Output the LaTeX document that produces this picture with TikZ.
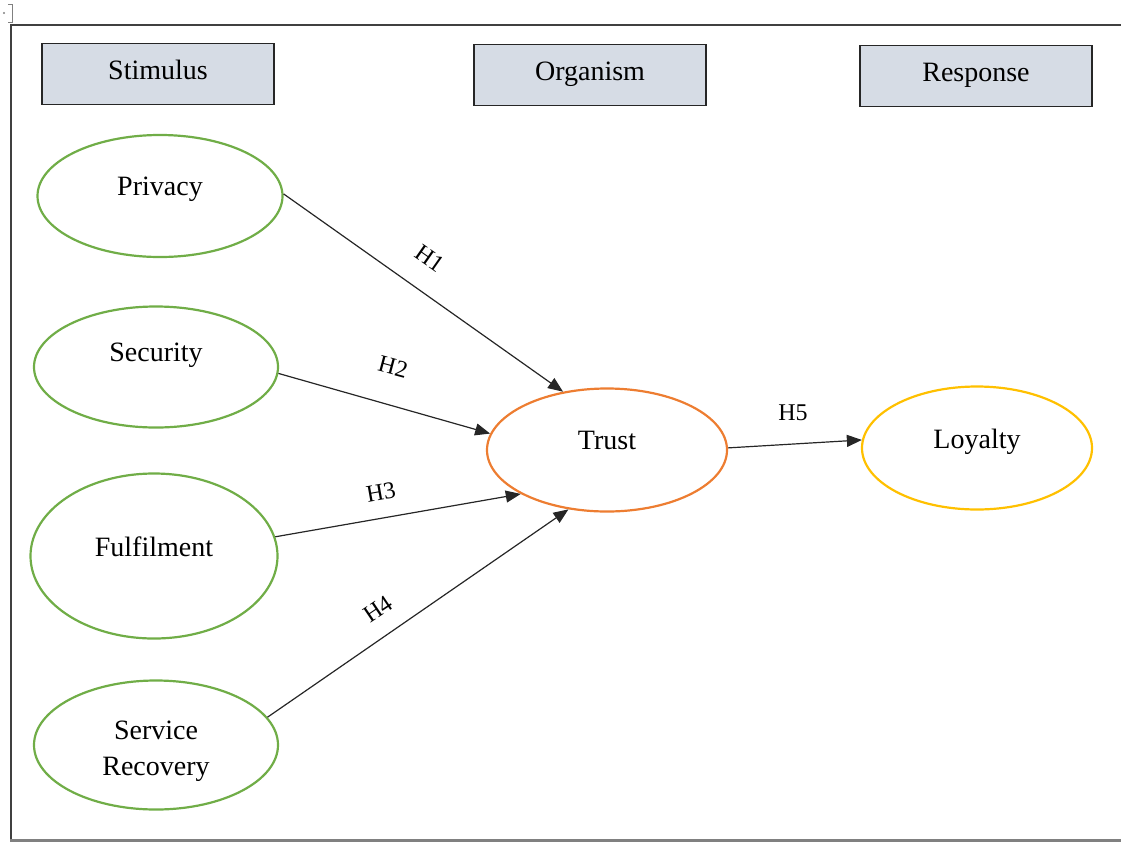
\documentclass[tikz,border=0pt]{standalone}
\usepackage{fontspec}
\setmainfont{Liberation Serif}
\usetikzlibrary{arrows.meta,shapes.geometric}
\definecolor{boxfill}{HTML}{D6DCE5}
\definecolor{stimgreen}{HTML}{70AD47}
\definecolor{trustorange}{HTML}{ED7D31}
\definecolor{loyalgold}{HTML}{FFC000}
\definecolor{framegray}{HTML}{404040}
\tikzset{
  headbox/.style={draw=black!85, line width=1.3pt, fill=boxfill, minimum width=232pt, minimum height=61pt, inner sep=0pt},
  construct/.style={ellipse, draw, line width=2.2pt, inner sep=0pt},
  lbl/.style={font=\fontsize{28}{36}\selectfont, align=center, inner sep=0pt, text height=19pt, text depth=0pt},
  hyp/.style={font=\fontsize{24}{28}\selectfont, inner sep=0pt},
  link/.style={line width=1.2pt, draw=black!85, -{Triangle[length=15pt,width=12pt]}}
}
\begin{document}
\begin{tikzpicture}[x=1pt,y=-1pt]
\useasboundingbox (0,0) rectangle (1121,863);
% frame
\draw[framegray, line width=1.5pt] (1121,25) -- (11,25) -- (11,840);
\draw[gray, line width=2.5pt] (10,840.5) -- (1121,840.5);
% word anchor mark
\draw[gray, line width=0.8pt] (8,4) -- (12,4) -- (12,22) -- (8,22);
\fill[gray] (4,13) circle (1.2pt);
% header boxes
\node[headbox] (stim) at (158,74) {};
\node[lbl] (stimT) at (158,70) {Stimulus};
\node[headbox] (org) at (590,75) {};
\node[lbl] (orgT) at (590,71) {Organism};
\node[headbox] (resp) at (976,76) {};
\node[lbl] (respT) at (976,72) {Response};
% constructs
\node[construct, draw=stimgreen, minimum width=245pt, minimum height=122pt] (privacy) at (160,196) {};
\node[lbl] (privacyT) at (160,186) {Privacy};
\node[construct, draw=stimgreen, minimum width=244pt, minimum height=121pt] (security) at (156,367) {};
\node[lbl] (securityT) at (156,352) {Security};
\node[construct, draw=stimgreen, minimum width=247pt, minimum height=165pt] (fulfil) at (154,556) {};
\node[lbl] (fulfilT) at (154,547) {Fulfilment};
\node[construct, draw=stimgreen, minimum width=244pt, minimum height=129pt] (service) at (156,745) {};
\node[lbl] (serviceT) at (156,766) {Service\\Recovery};
\node[construct, draw=trustorange, minimum width=240pt, minimum height=123pt] (trust) at (607,450) {};
\node[lbl] (trustT) at (607,440) {Trust};
\node[construct, draw=loyalgold, minimum width=230pt, minimum height=123pt] (loyalty) at (977,448) {};
\node[lbl] (loyaltyT) at (977,439) {Loyalty};
% connectors
\draw[link] (privacy.1) -- (trust.127);
\draw[link] (security.-3) -- (trust.172);
\draw[link] (fulfil.9) -- (trust.207);
\draw[link] (service.14) -- (trust.237);
\draw[link] (trust.1) -- (loyalty.176);
% hypothesis labels
\node[hyp, rotate=-35] (h1) at (430,258) {H1};
\node[hyp, rotate=-15] (h2) at (393,367) {H2};
\node[hyp, rotate=10] (h3) at (381,492) {H3};
\node[hyp, rotate=34] (h4) at (378,609) {H4};
\node[hyp] (h5) at (793,413) {H5};
\end{tikzpicture}
\end{document}
